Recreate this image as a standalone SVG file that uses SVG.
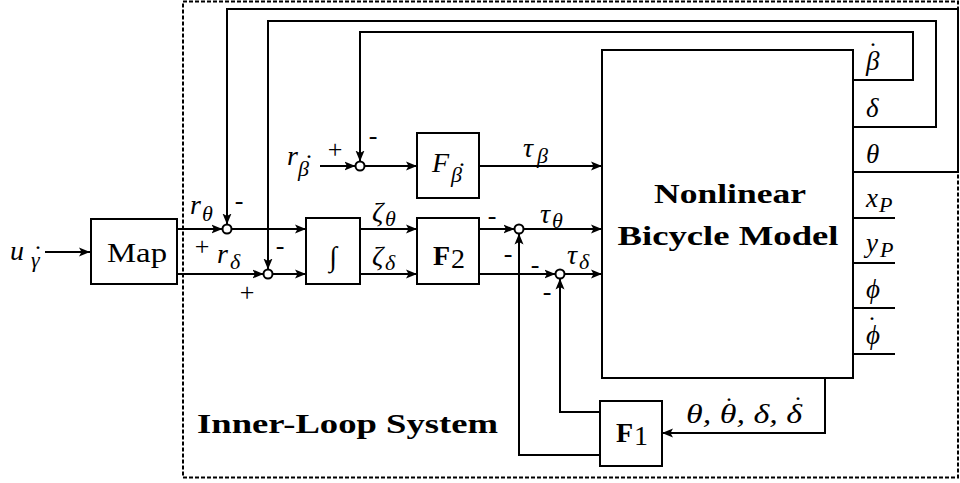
<svg xmlns="http://www.w3.org/2000/svg" width="960" height="483" viewBox="0 0 960 483">
<style>
.box{fill:#fff;stroke:#000;stroke-width:2}
.ln{fill:none;stroke:#000;stroke-width:2}
.ar{fill:none;stroke:#000;stroke-width:2;marker-end:url(#ah)}
.sum{fill:#fff;stroke:#000;stroke-width:2}
.m{font-family:"Liberation Serif",serif;font-style:italic;font-size:28px;fill:#000}
.s{font-family:"Liberation Serif",serif;font-style:italic;font-size:22px;fill:#000}
.d{font-family:"Liberation Serif",serif;font-size:24px;fill:#000;text-anchor:middle}
.u{font-family:"Liberation Serif",serif;font-size:28px;fill:#000}
.b{font-family:"Liberation Serif",serif;font-weight:bold;font-size:28px;fill:#000}
.sg{font-family:"Liberation Serif",serif;font-size:26px;fill:#000;text-anchor:middle}
.o{font-family:"Liberation Serif",serif;font-style:italic;font-size:27px;fill:#000}
</style>
<defs>
<marker id="ah" markerUnits="userSpaceOnUse" markerWidth="12" markerHeight="10" viewBox="0 0 12 10" refX="11" refY="5" orient="auto">
<path d="M0,0.5 L11,5 L0,9.5 L2.5,5 Z" fill="#000"/>
</marker>
</defs>

<rect x="183" y="1.5" width="775" height="476" fill="none" stroke="#000" stroke-width="2" stroke-dasharray="4,2"/>

<g id="connectors">
<line class="ar" x1="45" y1="252" x2="90" y2="252"/>
<line class="ar" x1="177" y1="229" x2="222.5" y2="229"/>
<line class="ar" x1="177" y1="274" x2="263.5" y2="274"/>
<polyline class="ar" points="853,172 958,172 958,9 227,9 227,224.5"/>
<polyline class="ar" points="853,127 936,127 936,21 268,21 268,269.5"/>
<polyline class="ar" points="853,80 913,80 913,32 360,32 360,161.5"/>
<line class="ar" x1="320" y1="166" x2="355.5" y2="166"/>
<line class="ar" x1="364.5" y1="166" x2="417" y2="166"/>
<line class="ar" x1="479" y1="166" x2="602" y2="166"/>
<line class="ar" x1="231.5" y1="229" x2="306" y2="229"/>
<line class="ar" x1="272.5" y1="274" x2="306" y2="274"/>
<line class="ar" x1="360" y1="229" x2="417" y2="229"/>
<line class="ar" x1="360" y1="274" x2="417" y2="274"/>
<line class="ar" x1="479" y1="229" x2="514.5" y2="229"/>
<line class="ar" x1="523.5" y1="229" x2="602" y2="229"/>
<line class="ar" x1="479" y1="274" x2="555.5" y2="274"/>
<line class="ar" x1="564.5" y1="274" x2="602" y2="274"/>
<polyline class="ar" points="825,378 825,433 662,433"/>
<polyline class="ar" points="600,412 560,412 560,278.5"/>
<polyline class="ar" points="600,455 519,455 519,233.5"/>
<line class="ln" x1="853" y1="218" x2="895" y2="218"/>
<line class="ln" x1="853" y1="263" x2="895" y2="263"/>
<line class="ln" x1="853" y1="308" x2="895" y2="308"/>
<line class="ln" x1="853" y1="354" x2="895" y2="354"/>
</g>

<g id="input">
<text class="m" x="10" y="260" font-size="32">u</text><text class="s" x="31" y="267">γ</text><text class="d" x="38" y="249">.</text>
</g>

<g id="map">
<rect class="box" x="91" y="219" width="86" height="65"/>
<text class="u" x="107" y="262" font-size="29" textLength="60" lengthAdjust="spacingAndGlyphs">Map</text>
</g>

<g id="sum-theta">
<circle class="sum" cx="227" cy="229" r="4.5"/>
<text class="m" x="190" y="214">r</text><text class="s" x="202" y="221">θ</text>
<text class="sg" x="239" y="209">-</text>
<text class="sg" x="202" y="255">+</text>
</g>

<g id="sum-delta">
<circle class="sum" cx="268" cy="274" r="4.5"/>
<text class="m" x="217" y="263">r</text><text class="s" x="230" y="269">δ</text>
<text class="sg" x="280" y="254">-</text>
<text class="sg" x="247" y="301">+</text>
</g>

<g id="sum-beta">
<circle class="sum" cx="360" cy="166" r="4.5"/>
<text class="m" x="287" y="165">r</text><text class="s" x="298" y="176">β</text><text class="d" x="309" y="158">.</text>
<text class="sg" x="335" y="158">+</text>
<text class="sg" x="373" y="144">-</text>
</g>

<g id="F-beta">
<rect class="box" x="417" y="133" width="62" height="65"/>
<text class="m" x="432" y="172" font-size="30">F</text><text class="s" x="451" y="182">β</text><text class="d" x="462" y="166">.</text>
</g>

<g id="integrator">
<rect class="box" x="306" y="218" width="54" height="66"/>
<text class="u" x="333" y="266" font-size="42" text-anchor="middle">∫</text>
</g>

<g id="F2">
<rect class="box" x="417" y="218" width="62" height="66"/>
<text class="b" x="433" y="265" font-size="31">F</text><text class="u" x="451" y="268" font-size="21">2</text>
</g>

<g id="sum-tau-theta">
<circle class="sum" cx="519" cy="229" r="4.5"/>
<text class="sg" x="492" y="224">-</text>
<text class="sg" x="508" y="262">-</text>
</g>

<g id="sum-tau-delta">
<circle class="sum" cx="560" cy="274" r="4.5"/>
<text class="sg" x="535" y="273">-</text>
<text class="sg" x="547" y="300">-</text>
</g>

<g id="edge-labels">
<text class="m" x="523" y="157">τ</text><text class="s" x="537" y="163">β</text>
<text class="m" x="372" y="221">ζ</text><text class="s" x="385" y="226">θ</text>
<text class="m" x="372" y="265">ζ</text><text class="s" x="385" y="270">δ</text>
<text class="m" x="540" y="223">τ</text><text class="s" x="552" y="228">θ</text>
<text class="m" x="567" y="264">τ</text><text class="s" x="579" y="269">δ</text>
<text class="m" x="686" y="423" textLength="116" lengthAdjust="spacingAndGlyphs">θ, θ, δ, δ</text>
<text class="d" x="729" y="401">.</text>
<text class="d" x="798" y="400">.</text>
</g>

<g id="model">
<rect class="box" x="602" y="50" width="251" height="328"/>
<text class="b" x="730" y="203" text-anchor="middle" font-size="29" textLength="152" lengthAdjust="spacingAndGlyphs">Nonlinear</text>
<text class="b" x="728" y="245" text-anchor="middle" font-size="29" textLength="221" lengthAdjust="spacingAndGlyphs">Bicycle Model</text>
<text class="o" x="866" y="70">β</text><text class="d" x="873" y="46">.</text>
<text class="o" x="866" y="117">δ</text>
<text class="o" x="866" y="163">θ</text>
<text class="o" x="866" y="207">x</text><text class="s" x="879" y="212">P</text>
<text class="o" x="866" y="252">y</text><text class="s" x="880" y="257">P</text>
<text class="o" x="866" y="298">ϕ</text>
<text class="o" x="866" y="344">ϕ</text><text class="d" x="872" y="320">.</text>
</g>

<g id="F1">
<rect class="box" x="600" y="401" width="62" height="65"/>
<text class="b" x="616" y="442" font-size="31">F</text><text class="u" x="634" y="445" font-size="21">1</text>
</g>

<text class="b" x="197" y="433" textLength="301" lengthAdjust="spacingAndGlyphs">Inner-Loop System</text>
</svg>
